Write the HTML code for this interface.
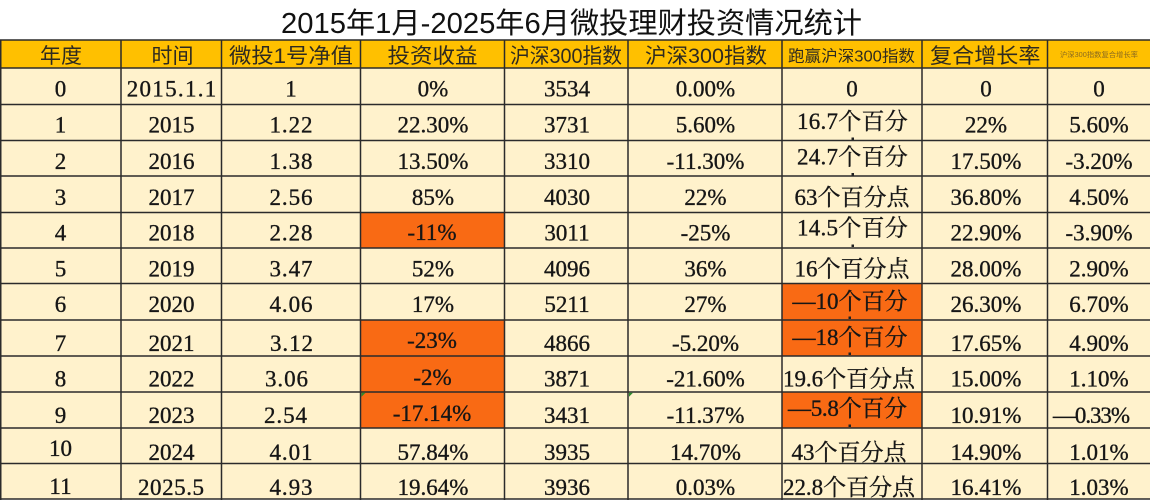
<!DOCTYPE html>
<html>
<head>
<meta charset="utf-8">
<style>
html,body{margin:0;padding:0;background:#ffffff;}
svg{display:block;}
.t{font-family:"Liberation Sans","Noto Sans CJK SC",sans-serif;fill:#111;}
.h{font-family:"Liberation Sans","Noto Sans CJK SC",sans-serif;fill:#2e2a20;}
.d{font-family:"Liberation Serif","Noto Serif CJK SC",serif;font-size:23px;fill:#161616;stroke:#161616;stroke-width:0.35px;}
.m{text-anchor:middle;}
</style>
</head>
<body>
<svg width="1150" height="500" viewBox="0 0 1150 500" xmlns="http://www.w3.org/2000/svg">
<rect x="0" y="0" width="1150" height="500" fill="#ffffff"/>
<!-- title -->
<text class="t" x="281" y="33" style="font-size:29px" textLength="581" lengthAdjust="spacingAndGlyphs">2015年1月-2025年6月微投理财投资情况统计</text>

<!-- backgrounds -->
<rect x="0" y="40" width="1150" height="28" fill="#FFC000"/>
<rect x="0" y="68" width="1150" height="431" fill="#FFF2CC"/>

<!-- orange cells -->
<rect x="360.5" y="212.5" width="144" height="35.5" fill="#F96A14"/>
<rect x="360.5" y="320" width="144" height="108" fill="#F96A14"/>
<rect x="782" y="283.5" width="140" height="72.5" fill="#F96A14"/>
<rect x="782" y="392" width="140" height="36" fill="#F96A14"/>

<!-- grid lines -->
<g stroke="#2b2b2b" stroke-width="1.5">
<line x1="0" y1="40" x2="1150" y2="40"/>
<line x1="0" y1="68" x2="1150" y2="68"/>
<line x1="0" y1="104.5" x2="1150" y2="104.5"/>
<line x1="0" y1="140.5" x2="1150" y2="140.5"/>
<line x1="0" y1="176" x2="1150" y2="176"/>
<line x1="0" y1="212.5" x2="1150" y2="212.5"/>
<line x1="0" y1="248" x2="1150" y2="248"/>
<line x1="0" y1="283.5" x2="1150" y2="283.5"/>
<line x1="0" y1="320" x2="1150" y2="320"/>
<line x1="0" y1="356" x2="1150" y2="356"/>
<line x1="0" y1="392" x2="1150" y2="392"/>
<line x1="0" y1="428" x2="1150" y2="428"/>
<line x1="0" y1="463.5" x2="1150" y2="463.5"/>
<line x1="0" y1="499" x2="1150" y2="499"/>
<line x1="0.75" y1="40" x2="0.75" y2="500"/>
<line x1="121" y1="40" x2="121" y2="500"/>
<line x1="221.5" y1="40" x2="221.5" y2="500"/>
<line x1="360.5" y1="40" x2="360.5" y2="500"/>
<line x1="504.5" y1="40" x2="504.5" y2="500"/>
<line x1="628" y1="40" x2="628" y2="500"/>
<line x1="782" y1="40" x2="782" y2="500"/>
<line x1="922" y1="40" x2="922" y2="500"/>
<line x1="1047.5" y1="40" x2="1047.5" y2="500"/>
</g>

<!-- little green error markers -->
<polygon points="361.5,392.8 365.5,392.8 361.5,396.8" fill="#2e8b2e"/>
<polygon points="629,392.8 633,392.8 629,396.8" fill="#2e8b2e"/>

<!-- header -->
<text class="h" x="40" y="63" style="font-size:21px" textLength="42" lengthAdjust="spacingAndGlyphs">年度</text>
<text class="h" x="151.5" y="63" style="font-size:21px" textLength="42" lengthAdjust="spacingAndGlyphs">时间</text>
<text class="h" x="229" y="63" style="font-size:21px" textLength="124" lengthAdjust="spacingAndGlyphs">微投1号净值</text>
<text class="h" x="387.5" y="63" style="font-size:21px" textLength="90" lengthAdjust="spacingAndGlyphs">投资收益</text>
<text class="h" x="510" y="63" style="font-size:21px" textLength="112" lengthAdjust="spacingAndGlyphs">沪深300指数</text>
<text class="h" x="645" y="63" style="font-size:21px" textLength="122" lengthAdjust="spacingAndGlyphs">沪深300指数</text>
<text class="h" x="788" y="61.5" style="font-size:16px" textLength="127" lengthAdjust="spacingAndGlyphs">跑赢沪深300指数</text>
<text class="h" x="930" y="63" style="font-size:21px" textLength="110.5" lengthAdjust="spacingAndGlyphs">复合增长率</text>
<text class="h" x="1060" y="57" style="font-size:7px;fill:#8a6a20" textLength="78" lengthAdjust="spacingAndGlyphs">沪深300指数复合增长率</text>

<!-- row 0 -->
<text class="d m" x="60.5" y="96.5">0</text>
<text class="d" x="126.7" y="96.5" textLength="89.6" lengthAdjust="spacing">2015.1.1</text>
<text class="d m" x="291" y="96.5">1</text>
<text class="d m" x="433" y="96.5">0%</text>
<text class="d m" x="567" y="96.5">3534</text>
<text class="d m" x="705.5" y="96.5">0.00%</text>
<text class="d m" x="852" y="96.5">0</text>
<text class="d m" x="986" y="96.5">0</text>
<text class="d m" x="1099" y="96.5">0</text>

<!-- row 1 -->
<text class="d m" x="60.5" y="132.5">1</text>
<text class="d m" x="171.5" y="132.5">2015</text>
<text class="d" x="269.5" y="132.5" textLength="43" lengthAdjust="spacing">1.22</text>
<text class="d m" x="433" y="132.5">22.30%</text>
<text class="d m" x="567" y="132.5">3731</text>
<text class="d m" x="705.5" y="132.5">5.60%</text>
<text class="d" x="797" y="129" textLength="110.8" lengthAdjust="spacing">16.7个百分</text>
<rect x="851.5" y="137.5" width="2.5" height="2.5" fill="#222"/>
<text class="d m" x="986" y="132.5">22%</text>
<text class="d m" x="1099" y="132.5">5.60%</text>

<!-- row 2 -->
<text class="d m" x="60.5" y="169">2</text>
<text class="d m" x="171.5" y="169">2016</text>
<text class="d" x="269.5" y="169" textLength="43" lengthAdjust="spacing">1.38</text>
<text class="d m" x="433" y="169">13.50%</text>
<text class="d m" x="567" y="169">3310</text>
<text class="d m" x="705.5" y="169">-11.30%</text>
<text class="d" x="797" y="164.5" textLength="110.8" lengthAdjust="spacing">24.7个百分</text>
<rect x="851.5" y="173" width="2.5" height="2.5" fill="#222"/>
<text class="d m" x="986" y="169">17.50%</text>
<text class="d m" x="1099" y="169">-3.20%</text>

<!-- row 3 -->
<text class="d m" x="60.5" y="205">3</text>
<text class="d m" x="171.5" y="205">2017</text>
<text class="d" x="269.5" y="205" textLength="43" lengthAdjust="spacing">2.56</text>
<text class="d m" x="433" y="205">85%</text>
<text class="d m" x="567" y="205">4030</text>
<text class="d m" x="705.5" y="205">22%</text>
<text class="d m" x="852" y="205">63个百分点</text>
<text class="d m" x="986" y="205">36.80%</text>
<text class="d m" x="1099" y="205">4.50%</text>

<!-- row 4 -->
<text class="d m" x="60.5" y="240.5">4</text>
<text class="d m" x="171.5" y="240.5">2018</text>
<text class="d" x="269.5" y="240.5" textLength="43" lengthAdjust="spacing">2.28</text>
<text class="d m" x="432" y="240">-11%</text>
<text class="d m" x="567" y="240.5">3011</text>
<text class="d m" x="705.5" y="240.5">-25%</text>
<text class="d" x="797" y="235.5" textLength="110.8" lengthAdjust="spacing">14.5个百分</text>
<rect x="851.5" y="244.5" width="2.5" height="2.5" fill="#222"/>
<text class="d m" x="986" y="240.5">22.90%</text>
<text class="d m" x="1099" y="240.5">-3.90%</text>

<!-- row 5 -->
<text class="d m" x="60.5" y="276.5">5</text>
<text class="d m" x="171.5" y="276.5">2019</text>
<text class="d" x="269.5" y="276.5" textLength="43" lengthAdjust="spacing">3.47</text>
<text class="d m" x="433" y="276.5">52%</text>
<text class="d m" x="567" y="276.5">4096</text>
<text class="d m" x="705.5" y="276.5">36%</text>
<text class="d m" x="852" y="276.5">16个百分点</text>
<text class="d m" x="986" y="276.5">28.00%</text>
<text class="d m" x="1099" y="276.5">2.90%</text>

<!-- row 6 -->
<text class="d m" x="60.5" y="312">6</text>
<text class="d m" x="171.5" y="312">2020</text>
<text class="d" x="269.5" y="312" textLength="43" lengthAdjust="spacing">4.06</text>
<text class="d m" x="433" y="312">17%</text>
<text class="d m" x="567" y="312">5211</text>
<text class="d m" x="705.5" y="312">27%</text>
<text class="d m" x="850" y="309">—10个百分</text>
<rect x="848.5" y="316.5" width="2.5" height="2.5" fill="#222"/>
<text class="d m" x="986" y="312">26.30%</text>
<text class="d m" x="1099" y="312">6.70%</text>

<!-- row 7 -->
<text class="d m" x="60.5" y="351">7</text>
<text class="d m" x="171.5" y="351">2021</text>
<text class="d" x="270" y="351" textLength="43" lengthAdjust="spacing">3.12</text>
<text class="d m" x="432" y="348">-23%</text>
<text class="d m" x="567" y="351">4866</text>
<text class="d m" x="705.5" y="351">-5.20%</text>
<text class="d m" x="850" y="345">—18个百分</text>
<rect x="848.5" y="352.5" width="2.5" height="2.5" fill="#222"/>
<text class="d m" x="986" y="351">17.65%</text>
<text class="d m" x="1099" y="351">4.90%</text>

<!-- row 8 -->
<text class="d m" x="60.5" y="386.5">8</text>
<text class="d m" x="171.5" y="386.5">2022</text>
<text class="d" x="265" y="386.5" textLength="43" lengthAdjust="spacing">3.06</text>
<text class="d m" x="432.5" y="385">-2%</text>
<text class="d m" x="567" y="386.5">3871</text>
<text class="d m" x="705.5" y="386.5">-21.60%</text>
<text class="d" x="783" y="386.5" textLength="132" lengthAdjust="spacing">19.6个百分点</text>
<text class="d m" x="986" y="386.5">15.00%</text>
<text class="d m" x="1099" y="386.5">1.10%</text>

<!-- row 9 -->
<text class="d m" x="60.5" y="423">9</text>
<text class="d m" x="171.5" y="423">2023</text>
<text class="d" x="264" y="423" textLength="43" lengthAdjust="spacing">2.54</text>
<text class="d m" x="432" y="421">-17.14%</text>
<text class="d m" x="567" y="423">3431</text>
<text class="d m" x="705.5" y="423">-11.37%</text>
<text class="d" x="788" y="416" textLength="119" lengthAdjust="spacing">—5.8个百分</text>
<rect x="848.5" y="424.5" width="2.5" height="2.5" fill="#222"/>
<text class="d m" x="986" y="423">10.91%</text>
<text class="d" x="1053" y="423" textLength="77" lengthAdjust="spacing">—0.33%</text>

<!-- row 10 -->
<text class="d m" x="60.5" y="456">10</text>
<text class="d m" x="171.5" y="460">2024</text>
<text class="d" x="269.5" y="460" textLength="43" lengthAdjust="spacing">4.01</text>
<text class="d m" x="433" y="460">57.84%</text>
<text class="d m" x="567" y="460">3935</text>
<text class="d m" x="705.5" y="460">14.70%</text>
<text class="d m" x="849" y="460">43个百分点</text>
<text class="d m" x="986" y="460">14.90%</text>
<text class="d m" x="1099" y="460">1.01%</text>

<!-- row 11 -->
<text class="d m" x="60.5" y="494">11</text>
<text class="d" x="138" y="495" textLength="66" lengthAdjust="spacing">2025.5</text>
<text class="d" x="269.5" y="495" textLength="43" lengthAdjust="spacing">4.93</text>
<text class="d m" x="433" y="495">19.64%</text>
<text class="d m" x="567" y="495">3936</text>
<text class="d m" x="705.5" y="495">0.03%</text>
<text class="d" x="783" y="495" textLength="132" lengthAdjust="spacing">22.8个百分点</text>
<text class="d m" x="986" y="495">16.41%</text>
<text class="d m" x="1099" y="495">1.03%</text>
</svg>
</body>
</html>
